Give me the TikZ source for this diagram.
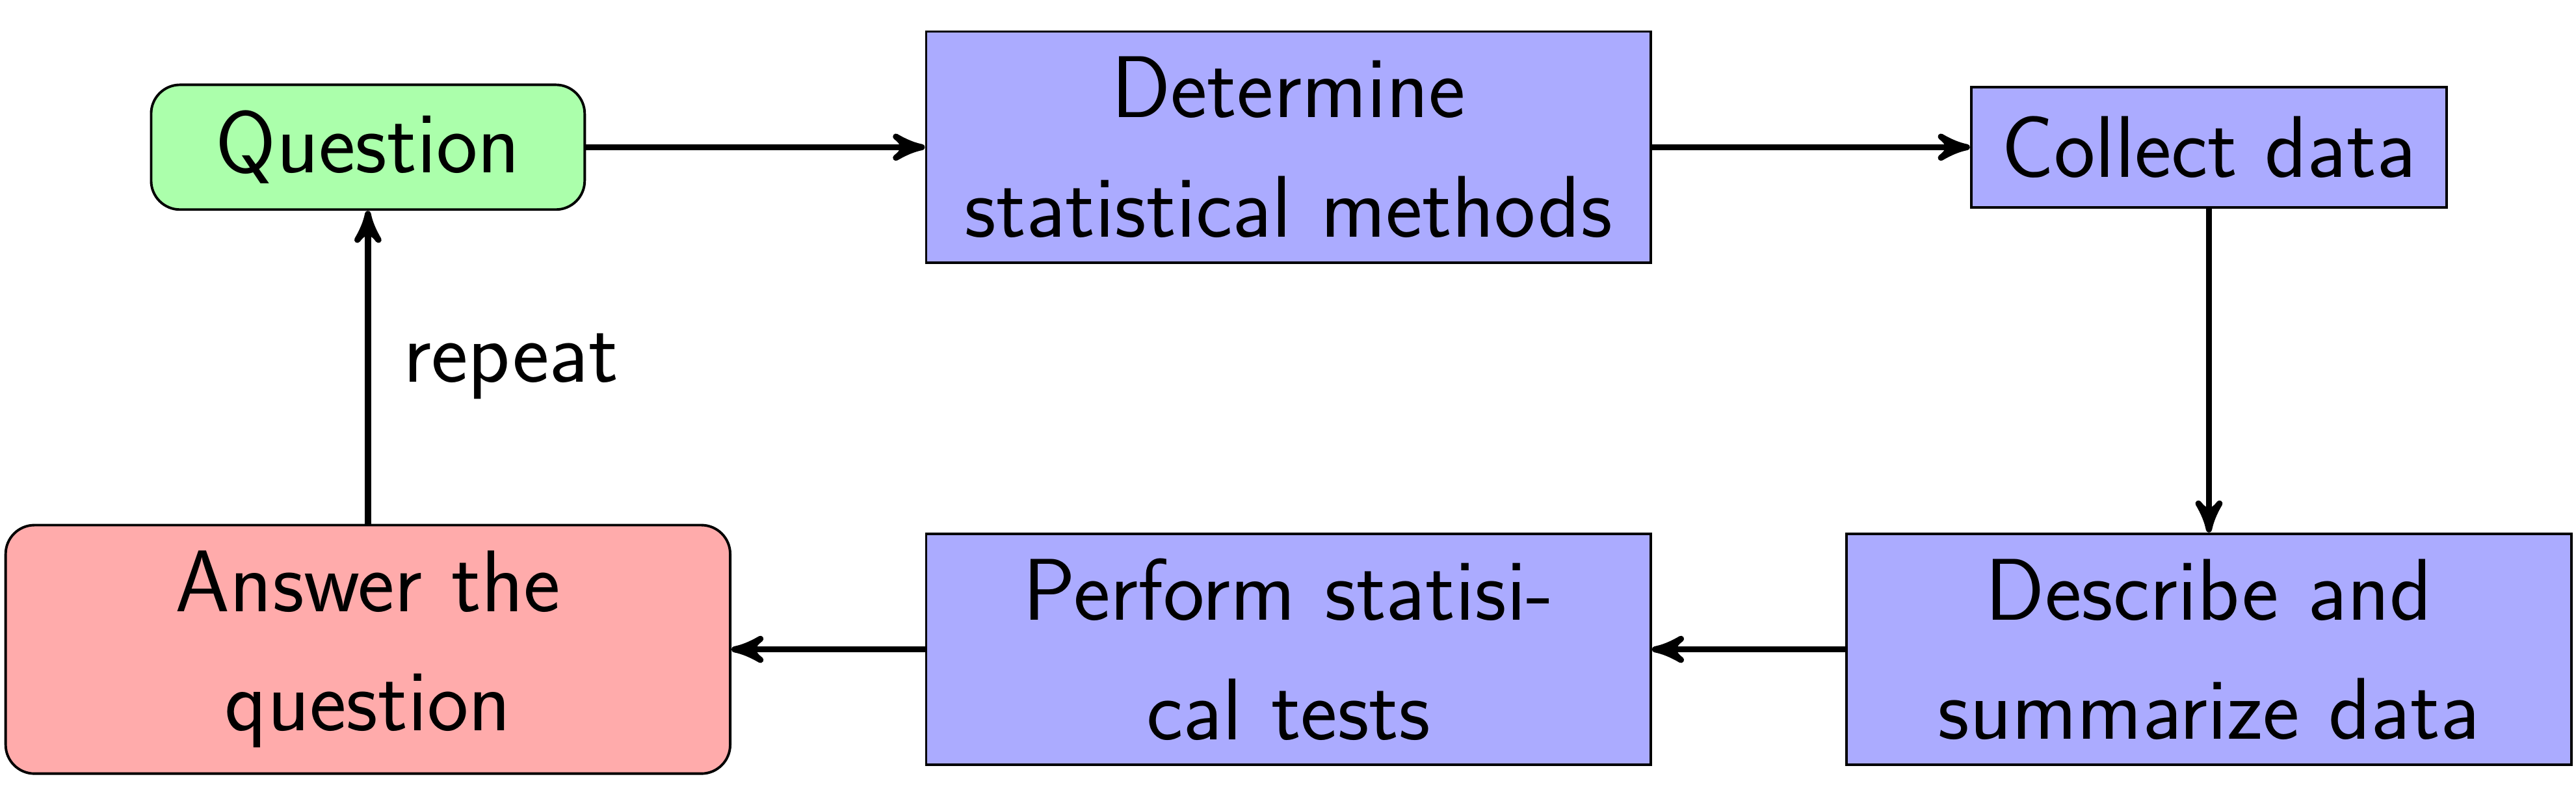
\documentclass[tikz,border=0pt]{standalone}
\usepackage{amsmath}
\usepackage{graphicx,xcolor}
\usepackage{tikz}
\usetikzlibrary{shapes.geometric,arrows,calc,positioning}

\begin{document}
\begin{tikzpicture}
	\tikzstyle{every node} = [draw = black, line width = 0.5pt, font = \fontsize{17.28}{23.5}\selectfont\sffamily, inner xsep = 6pt, inner ysep = 2pt]
	\tikzstyle{proc} = [rectangle, fill = blue!33]
	\tikzstyle{wide} = [text width = 4.6cm, align = center, minimum height = 45.6pt]
	\useasboundingbox (0,0) rectangle (17.854,-5.588);
\node[rectangle, rounded corners = 0.2cm, fill = green!33, minimum width = 85.5pt, minimum height = 24.6pt] (1) at (2.55, -1.02) {Question};
\node[proc, wide] (2) at (8.93, -1.02) {Determine statistical methods};
\node[proc, minimum height = 23.7pt] (3) at (15.31, -1.02) {Collect data};
\node[proc, wide] (4) at (15.31, -4.50) {Describe and summarize data};
\node[proc, wide] (5) at (8.93, -4.50) {Perform statisi-\\cal tests};
\node[rectangle, rounded corners = 0.2cm, fill = red!33, wide, minimum height = 49pt] (6) at (2.55, -4.50) {Answer the question};

	\path[draw, very thick, -stealth'] (1) -- (2);
	\path[draw, very thick, -stealth'] (2) -- (3);
	\path[draw, very thick, -stealth'] (3) -- (4);
	\path[draw, very thick, -stealth'] (4) -- (5);
	\path[draw, very thick, -stealth'] (5) -- (6);
	\path[draw, very thick, -stealth'] (6) -- (1);
\node[draw = none, inner sep = 0pt]  at (3.54, -2.54)  {repeat};
	\end{tikzpicture}
\end{document}
